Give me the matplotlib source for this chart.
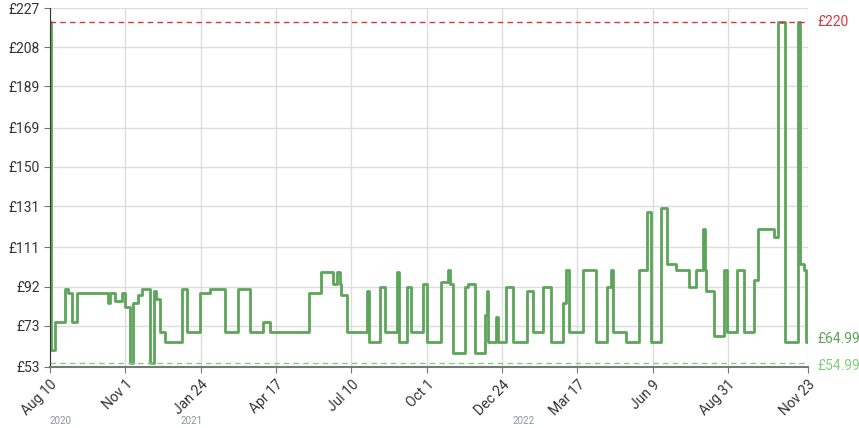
import numpy as np
import pandas as pd
import matplotlib
matplotlib.use("Agg")
import matplotlib.pyplot as plt

plt.rcParams["font.family"] = ["Roboto", "DejaVu Sans"]

START = pd.Timestamp("2020-08-10")
END = pd.Timestamp("2022-11-23")

# price change points: days since START, new price (£)
change_days = [0, 1, 6, 17, 20, 24, 30, 64, 66, 72, 79, 83, 88, 91, 97, 101, 110, 115, 117,
               121, 127, 145, 151, 165, 176, 193, 207, 220, 235, 242, 285, 299, 312, 316, 319,
               321, 327, 349, 351, 363, 369, 382, 385, 393, 398, 411, 415,
               431, 438, 441, 444, 457, 460, 468, 479, 481, 482, 491, 494, 502, 510, 526, 532,
               543, 552, 565, 568, 572, 587, 602, 614, 618, 620, 635, 649, 658, 662, 673, 680,
               690, 704, 712, 719, 721, 723, 732, 743, 746, 757, 765, 776, 780, 798, 802, 810,
               824, 826, 831, 833]
change_prices = [220, 61, 75, 91, 89, 75, 89, 84, 89, 85, 89, 82, 55, 84, 88, 91, 55, 90, 86,
                 70, 65, 91, 70, 89, 91, 70, 91, 70, 75, 70, 89, 99, 93, 99, 93,
                 88, 70, 90, 65, 92, 70, 99, 65, 92, 70, 93, 65,
                 94, 100, 93, 60, 92, 93, 60, 78, 90, 65, 77, 65, 92, 65, 90, 70,
                 92, 65, 84, 100, 70, 100, 65, 92, 100, 70, 65, 100, 128, 65, 130, 103,
                 100, 92, 100, 120, 100, 90, 68, 100, 70, 100, 70, 95, 120, 116, 220, 65,
                 220, 103, 100, 65]

y_ticks = [53, 73, 92, 111, 131, 150, 169, 189, 208, 227]
tick_labels = ["Aug 10", "Nov 1", "Jan 24", "Apr 17", "Jul 10", "Oct 1", "Dec 24",
               "Mar 17", "Jun 9", "Aug 31", "Nov 23"]
years = ["2020", "2021", "2022"]

highest = 220
lowest = 54.99
current = 64.99

GREEN = "#5ca55a"
RED = "#d9363e"
LIGHT = "#7fd07a"

dates = [START + pd.Timedelta(days=d) for d in change_days] + [END]
prices = change_prices + [change_prices[-1]]

fig = plt.figure(figsize=(8.59, 4.28), dpi=100)
ax = fig.add_axes([50 / 859, 61 / 428, 758 / 859, 359 / 428])

ax.step(dates, prices, where="post", color=GREEN, lw=2)
ax.axhline(highest, color=RED, lw=1, ls=(0, (4, 3)))
ax.axhline(lowest, color=LIGHT, lw=1, ls=(0, (4, 3)))

ax.set_xlim(START, END)
ax.set_ylim(53, 227)
ax.set_yticks(y_ticks)
ax.set_yticklabels([f"£{v}" for v in y_ticks], fontsize=10, color="#333333")

xt = [START + pd.Timedelta(days=83 * i) for i in range(len(tick_labels) - 1)] + [END]
ax.set_xticks(xt)
ax.set_xticklabels(tick_labels, rotation=45, ha="right", rotation_mode="anchor",
                   fontsize=10, color="#333333")

ax.grid(True, color="#dddddd", lw=1)
ax.set_axisbelow(True)
for s in ["top", "right"]:
    ax.spines[s].set_visible(False)
ax.spines["left"].set_color("#333333")
ax.spines["bottom"].set_color("#777777")
ax.spines["bottom"].set_linewidth(1.5)
ax.tick_params(length=4, color="#777777")

# year labels
for y, d in zip(years, [START, pd.Timestamp("2021-01-01"), pd.Timestamp("2022-01-01")]):
    ax.text(d, -0.15, y, transform=ax.get_xaxis_transform(), fontsize=7,
            color="#8a96a3", ha="left", va="center")

# right-hand price labels
tr = ax.get_yaxis_transform()
ax.text(1.012, highest, f"£{highest}", transform=tr, color=RED, fontsize=10, va="center")
ax.text(1.012, current + 1.5, f"£{current}", transform=tr, color=GREEN, fontsize=10, va="center")
ax.text(1.012, lowest - 1.5, f"£{lowest}", transform=tr, color=LIGHT, fontsize=10, va="center")

fig.savefig("out.png", dpi=100, facecolor="white")
